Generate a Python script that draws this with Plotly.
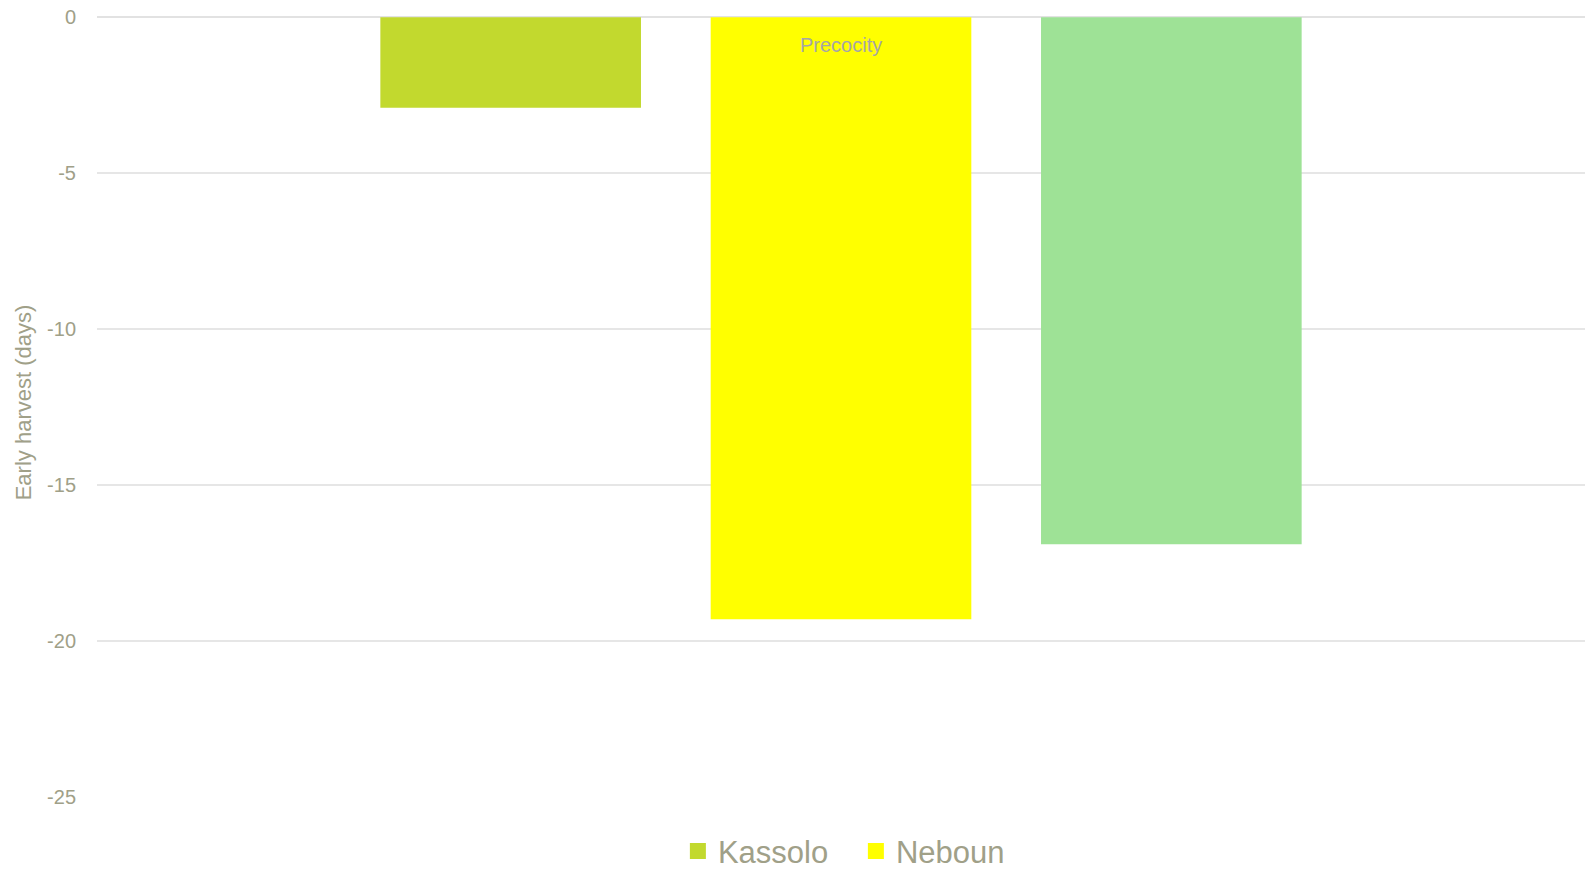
import plotly.graph_objects as go

categories = ["Precocity"]
series_names = ["Kassolo", "Neboun", "Third variety"]
series_values = [[-2.9], [-19.3], [-16.9]]
series_colors = ["#c2d92e", "#ffff00", "#9ee296"]
show_in_legend = [True, True, False]
y_ticks = [0, -5, -10, -15, -20, -25]

NARROW = "Liberation Sans Narrow, Arial Narrow, Liberation Sans, Arial"
TXT = "#a0a088"

fig = go.Figure()
for name, vals, col in zip(series_names, series_values, series_colors):
    fig.add_trace(go.Bar(x=categories, y=vals, name=name, marker_color=col,
                         marker_line_width=0, showlegend=False))
# legend entries (larger square swatches)
for name, col, sl in zip(series_names, series_colors, show_in_legend):
    if sl:
        fig.add_trace(go.Scatter(x=[None], y=[None], mode="markers", name=name,
                                 marker=dict(symbol="square", size=16, color=col),
                                 showlegend=True, hoverinfo="skip"))

# category label sits just below the zero axis (inside the plot)
for cat in categories:
    fig.add_annotation(x=cat, y=0, xref="x", yref="y", text=cat, showarrow=False,
                       yanchor="middle", yshift=-28,
                       font=dict(family=NARROW, size=20, color="#a6a6a6"))

fig.update_layout(
    width=1585, height=869,
    paper_bgcolor="white", plot_bgcolor="white",
    barmode="group", bargap=0.334, bargroupgap=0.211,
    margin=dict(l=97, r=0, t=8, b=72, autoexpand=False),
    showlegend=True,
    legend=dict(orientation="h", x=0.51, xanchor="center", y=-0.069, yanchor="middle",
                font=dict(family=NARROW, size=31, color=TXT), itemwidth=30,
                entrywidth=133, traceorder="normal"),
    xaxis=dict(showticklabels=False, showgrid=False, showline=False,
               ticks="", automargin=False),
    yaxis=dict(range=[-25, 0.295], tickvals=y_ticks, ticktext=[str(v) for v in y_ticks],
               showgrid=True, gridcolor="#e6e6e6", gridwidth=1.5, automargin=False,
               zeroline=True, zerolinecolor="#e2e2e2", zerolinewidth=2,
               ticklabeloverflow="allow",
               tickfont=dict(family="Liberation Sans, Arial", size=20, color=TXT),
               ticklabelstandoff=20,
               title=dict(text="Early harvest (days)", standoff=9,
                          font=dict(family=NARROW, size=22, color=TXT))),
)

fig.write_html("out.html", config={"displayModeBar": False},
               post_script="document.body.style.margin='0px';")
